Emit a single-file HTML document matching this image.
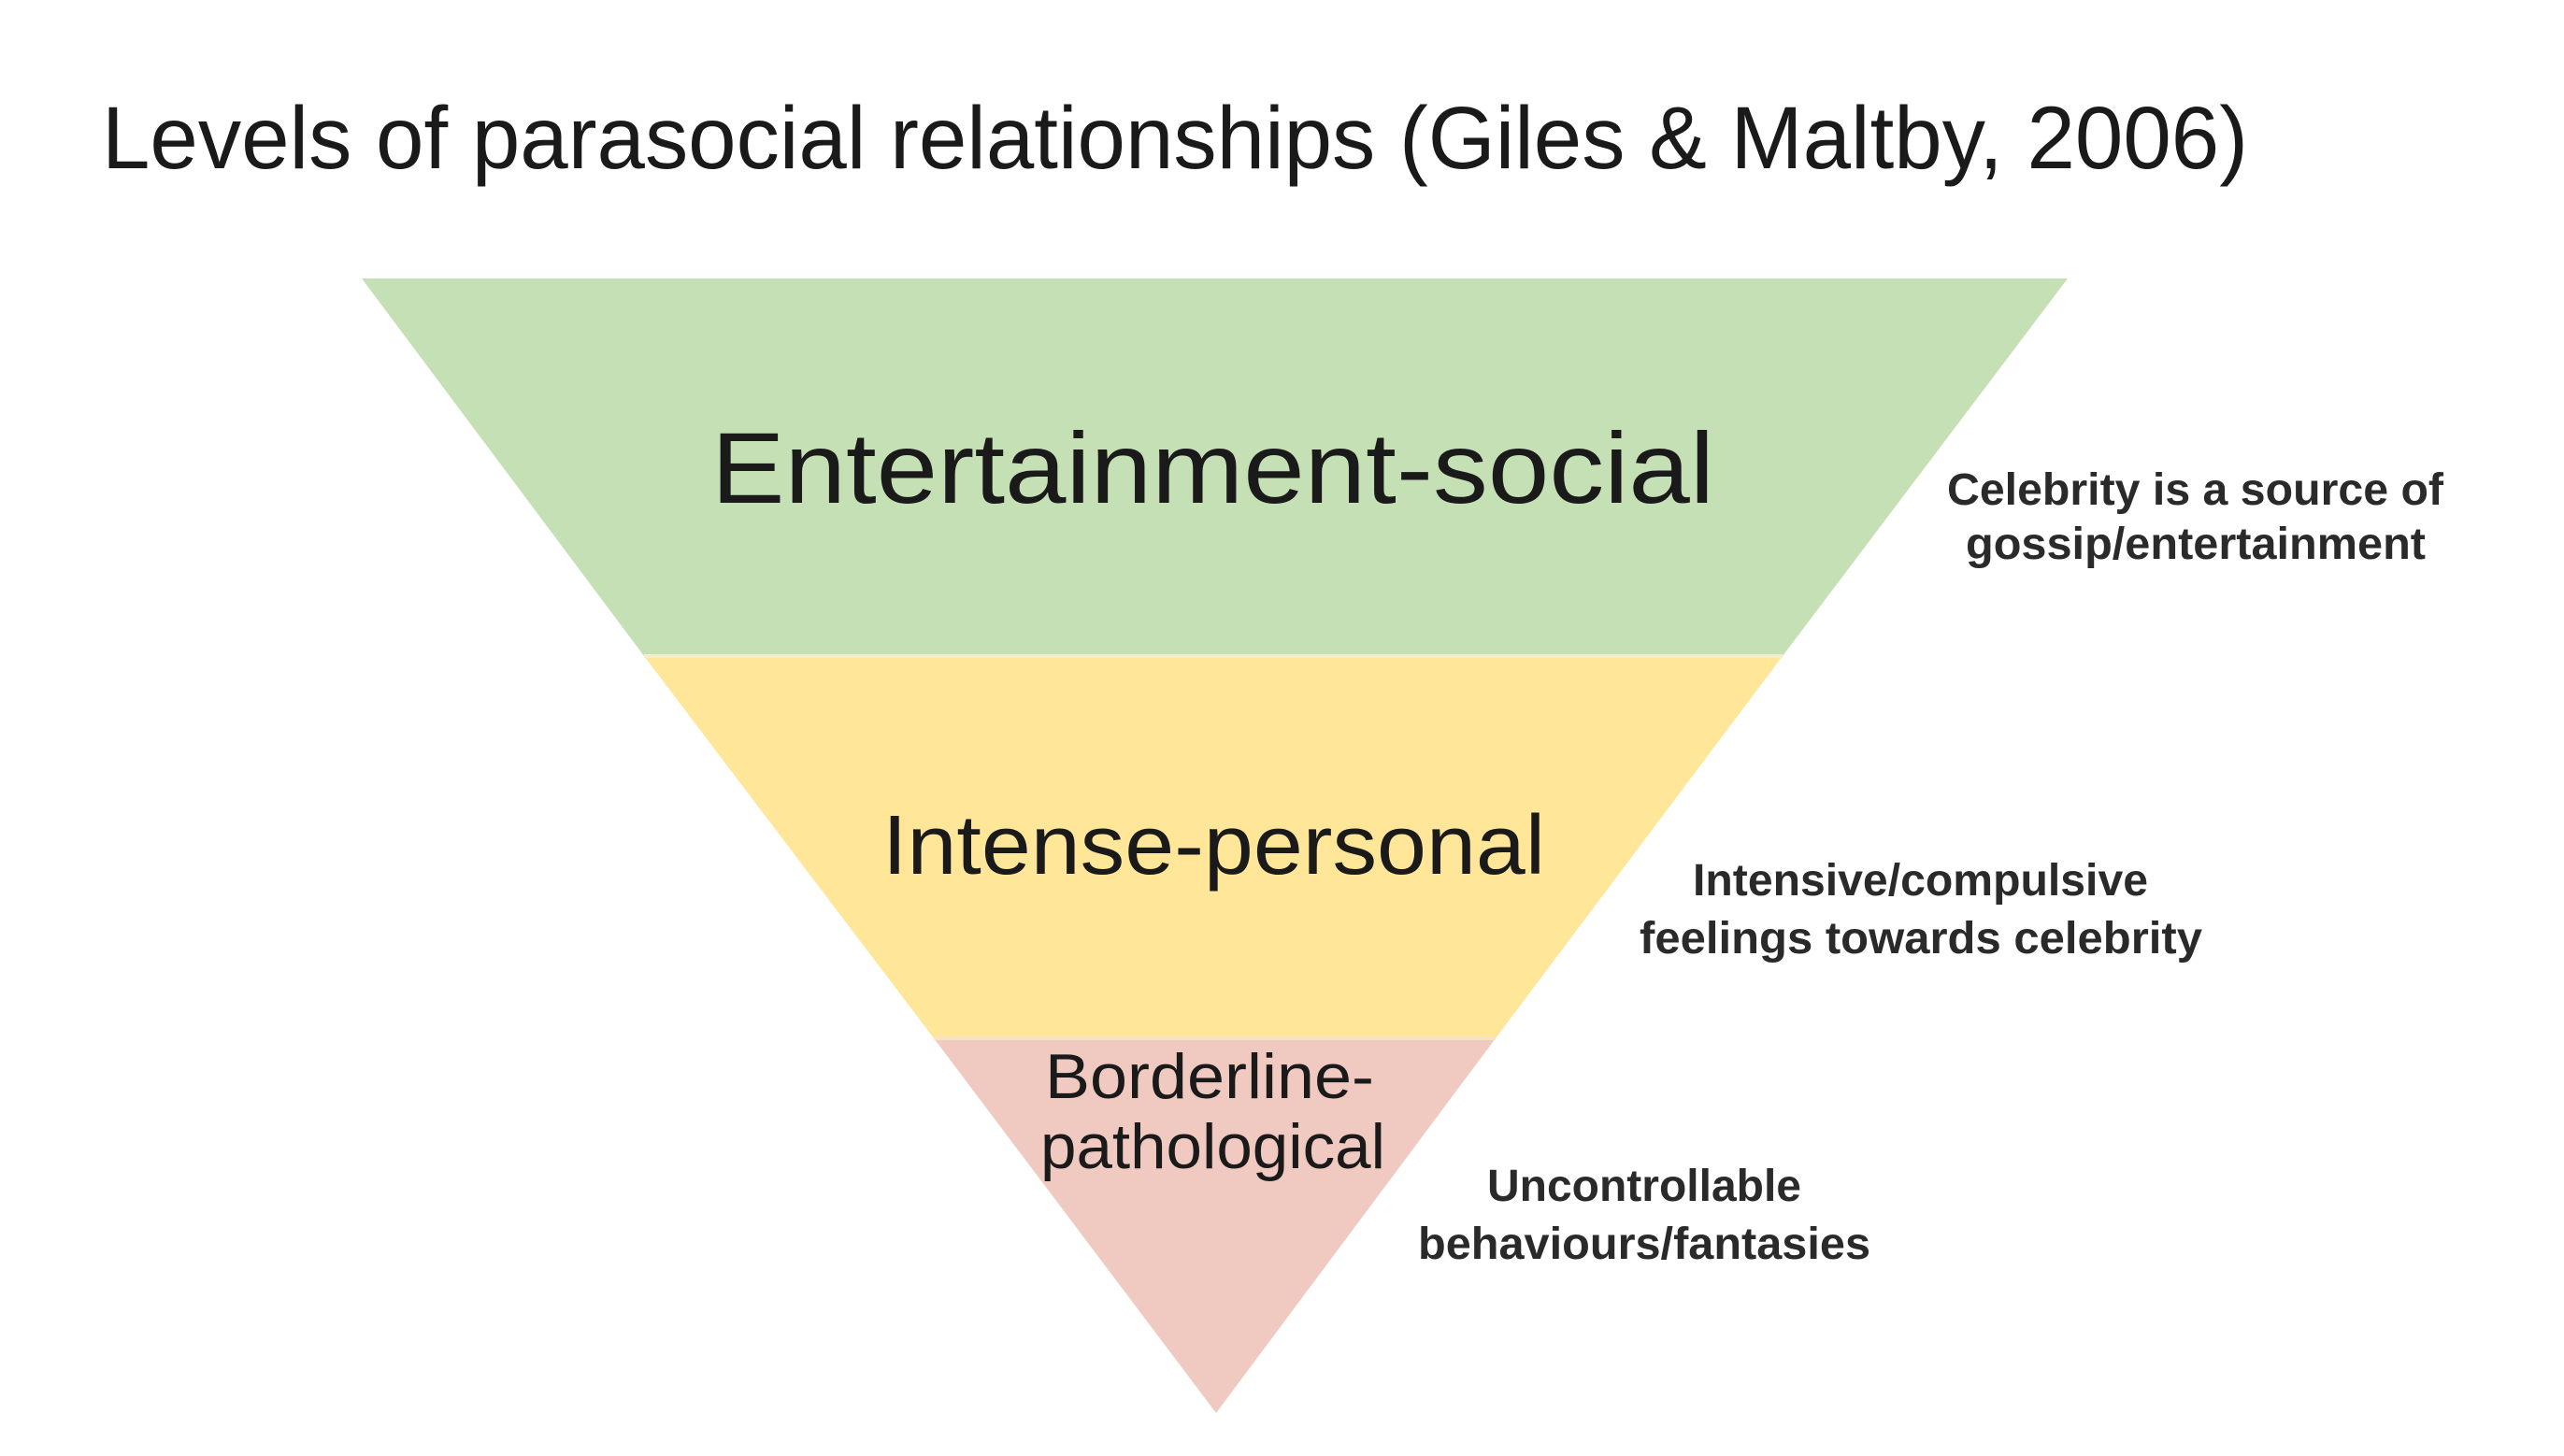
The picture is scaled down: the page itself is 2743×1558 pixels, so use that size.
<!DOCTYPE html>
<html><head><meta charset="utf-8"><style>html,body{margin:0;padding:0;background:#fff}svg{display:block}</style></head>
<body>
<svg width="2743" height="1558" viewBox="0 0 2743 1558" xmlns="http://www.w3.org/2000/svg" font-family="Liberation Sans, sans-serif" fill="#1a1a1a">
<polygon points="387,298 2212,298 1907,702 689,702" fill="#c5e0b4"/>
<polygon points="689,702 1907,702 1600,1111 999,1111" fill="#ffe699"/>
<polygon points="999,1111 1600,1111 1301,1512" fill="#f0c9c1"/>
<line x1="689" y1="702" x2="1907" y2="702" stroke="#f4eecb" stroke-width="4"/>
<line x1="999" y1="1111" x2="1600" y2="1111" stroke="#f6e4c0" stroke-width="4"/>
<text x="109" y="180" font-size="95" textLength="2296" lengthAdjust="spacingAndGlyphs">Levels of parasocial relationships (Giles &amp; Maltby, 2006)</text>
<text x="761" y="538" font-size="108" textLength="1073" lengthAdjust="spacingAndGlyphs">Entertainment-social</text>
<text x="944" y="935" font-size="90" textLength="709" lengthAdjust="spacingAndGlyphs">Intense-personal</text>
<text x="1118" y="1175" font-size="68" textLength="352" lengthAdjust="spacingAndGlyphs">Borderline-</text>
<text x="1113" y="1250" font-size="68" textLength="369" lengthAdjust="spacingAndGlyphs">pathological</text>
<g font-size="48" font-weight="bold" fill="#2a2a2a">
<text x="2083" y="540" textLength="531" lengthAdjust="spacingAndGlyphs">Celebrity is a source of</text>
<text x="2103" y="598" textLength="492" lengthAdjust="spacingAndGlyphs">gossip/entertainment</text>
<text x="1811" y="958" textLength="487" lengthAdjust="spacingAndGlyphs">Intensive/compulsive</text>
<text x="1754" y="1020" textLength="602" lengthAdjust="spacingAndGlyphs">feelings towards celebrity</text>
<text x="1591" y="1285" textLength="336" lengthAdjust="spacingAndGlyphs">Uncontrollable</text>
<text x="1517" y="1347" textLength="484" lengthAdjust="spacingAndGlyphs">behaviours/fantasies</text>
</g>
</svg>
</body></html>
